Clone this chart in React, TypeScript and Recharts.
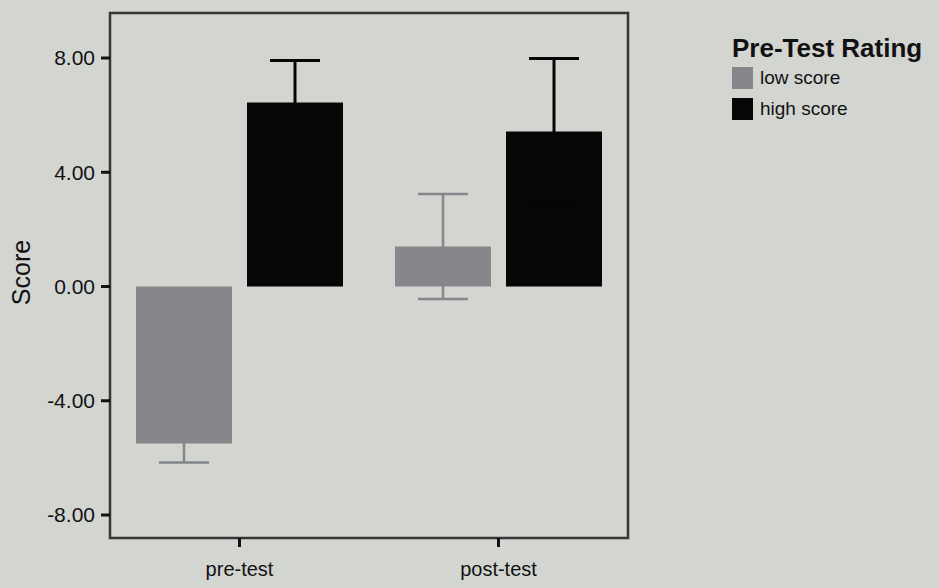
import React from 'react';
import { BarChart, Bar, XAxis, YAxis, ErrorBar, Legend, ReferenceArea } from 'recharts';

const categories = ['pre-test', 'post-test'];
const lowScore = [-5.5, 1.4];
const lowError = [0.66, 1.84];
const highScore = [6.44, 5.43];
const highError = [1.47, 2.55];
const yTicks = [-8, -4, 0, 4, 8];
const yDomain = [-8.805, 9.576];

const legendTitle = 'Pre-Test Rating';
const seriesNames = ['low score', 'high score'];

const LOW = '#85878a';
const HIGH = '#060606';
const FRAME = '#363636';
const BG = '#d3d5d1';
const FONT = '"Liberation Sans", Arial, sans-serif';

const data = categories.map((name, i) => ({
    name,
    low: lowScore[i],
    lowErr: lowError[i],
    high: highScore[i],
    highErr: highError[i],
}));

const ScoreLabel = ({ viewBox }: any) => {
    const cx = viewBox.x + 21;
    const cy = viewBox.y + viewBox.height / 2 - 3;
    return (
        <text
            x={cx}
            y={cy}
            transform={`rotate(-90 ${cx} ${cy})`}
            textAnchor="middle"
            dominantBaseline="central"
            fontSize={25}
            fontFamily={FONT}
            fill="#111"
        >
            Score
        </text>
    );
};

const LegendBox = () => (
    <div style={{ fontFamily: FONT, color: '#111' }}>
        <div style={{ fontSize: 26, fontWeight: 'bold', lineHeight: '28px', whiteSpace: 'nowrap' }}>
            {legendTitle}
        </div>
        {seriesNames.map((s, i) => (
            <div key={s} style={{ display: 'flex', alignItems: 'center', height: 31, fontSize: 19 }}>
                <span
                    style={{
                        display: 'inline-block',
                        width: 21,
                        height: 22,
                        background: i === 0 ? LOW : HIGH,
                        marginRight: 7,
                    }}
                />
                {s}
            </div>
        ))}
    </div>
);

export default function App() {
    return (
        <div style={{ position: 'absolute', left: 0, top: 0, width: 939, height: 588, background: BG }}>
            <BarChart
                width={939}
                height={588}
                data={data}
                margin={{ top: 13, right: 311, bottom: 0, left: 0 }}
                barSize={96}
                barGap={15}
            >
                <XAxis
                    dataKey="name"
                    height={50}
                    tickSize={9}
                    tickMargin={15}
                    axisLine={false}
                    tickLine={{ stroke: '#111', strokeWidth: 3 }}
                    tick={{ fontSize: 20, fontFamily: FONT, fill: '#111' }}
                />
                <YAxis
                    width={110}
                    domain={yDomain}
                    ticks={yTicks}
                    allowDataOverflow
                    tickFormatter={(v: number) => v.toFixed(2)}
                    tickSize={9}
                    tickMargin={6}
                    axisLine={false}
                    tickLine={{ stroke: '#111', strokeWidth: 3 }}
                    tick={{ fontSize: 21, fontFamily: FONT, fill: '#111' }}
                    label={<ScoreLabel />}
                />
                {/* plot frame */}
                <ReferenceArea
                    y1={yDomain[0]}
                    y2={yDomain[1]}
                    fill="none"
                    stroke={FRAME}
                    strokeWidth={2.5}
                    ifOverflow="visible"
                />
                <Legend
                    layout="vertical"
                    align="center"
                    verticalAlign="middle"
                    content={<LegendBox />}
                    wrapperStyle={{ left: 732, top: 34, width: 207, height: 94 }}
                />
                {/* low score */}
                <Bar dataKey="low" fill={LOW} isAnimationActive={false}>
                    <ErrorBar dataKey="lowErr" direction="y" width={25} stroke={LOW} strokeWidth={2.5} />
                </Bar>
                {/* high score */}
                <Bar dataKey="high" fill={HIGH} isAnimationActive={false}>
                    <ErrorBar dataKey="highErr" direction="y" width={25} stroke={HIGH} strokeWidth={3} />
                </Bar>
            </BarChart>
        </div>
    );
}
